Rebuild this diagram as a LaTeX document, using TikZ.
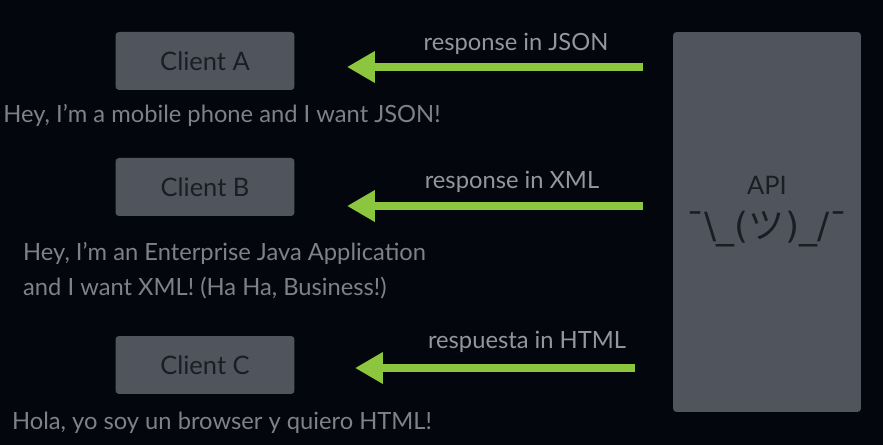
\documentclass[tikz,border=0pt]{standalone}
\usepackage{fontspec}
\setmainfont{Lato}
\newfontfamily\jpfont{Noto Sans CJK JP}
\newfontfamily\shrugfont{DejaVu Sans}
\usetikzlibrary{arrows.meta}

\definecolor{bgdark}{HTML}{03070D}
\definecolor{boxgray}{HTML}{50555D}
\definecolor{boxtext}{HTML}{1A1E24}
\definecolor{capgray}{HTML}{7E8186}
\definecolor{labgray}{HTML}{93969A}
\definecolor{respgreen}{HTML}{8CC63F}

\tikzset{
  client/.style={fill=boxgray, rounded corners=2pt, minimum width=3.58cm,
    minimum height=1.16cm, text=boxtext, font=\fontsize{14.5}{17}\selectfont},
  apibox/.style={fill=boxgray, rounded corners=2pt, minimum width=3.76cm,
    minimum height=7.6cm},
  caption/.style={text=capgray, align=left, font=\fontsize{13.5}{19.8}\selectfont},
  resp/.style={draw=respgreen, line width=4.5pt,
    -{Triangle[width=0.6cm,length=0.56cm]}},
  resplabel/.style={text=labgray, font=\fontsize{13.5}{16}\selectfont}
}

\begin{document}
\begin{tikzpicture}[x=0.02cm,y=-0.02cm]
	\useasboundingbox (0,0) rectangle (883,445);
	\fill[bgdark] (0,0) rectangle (883,445);
	% clients on the left
	\node[client] (a) at (205,61) {Client A};
	\node[client] (b) at (205,187) {Client B};
	\node[client] (c) at (205,365) {Client C};
	\node[caption] (capa) at (222,115) {Hey, I’m a mobile phone and I want JSON!};
	\node[caption, anchor=west] (capb) at (17,271) {Hey, I’m an Enterprise Java Application\\and I want XML! (Ha Ha, Business!)};
	\node[caption] (capc) at (222,423) {Hola, yo soy un browser y quiero HTML!};
	% the api
	\node[apibox] (api) at (767,222) {};
	\node[client, fill=none] (apiname) at (767,185) {API};
	\node[text=boxtext, font=\shrugfont\fontsize{20.5}{24}\selectfont] (shrug) at (767,229) {¯\textbackslash\_({\jpfont ツ})\_/¯};
	% responses
	\coordinate (jsonfrom) at (643,67);
	\coordinate (jsonto) at (347,67);
	\coordinate (xmlfrom) at (643,206);
	\coordinate (xmlto) at (347,206);
	\coordinate (htmlfrom) at (635,368);
	\coordinate (htmlto) at (355,368);
	\foreach \f/\t in {jsonfrom/jsonto,xmlfrom/xmlto,htmlfrom/htmlto}
	\draw[resp] (\f) -- (\t);
	\node[resplabel] (jsonlbl) at (516,44) {response in JSON};
	\node[resplabel] (xmllbl) at (512,182) {response in XML};
	\node[resplabel] (htmllbl) at (527,342) {respuesta in HTML};
\end{tikzpicture}
\end{document}
